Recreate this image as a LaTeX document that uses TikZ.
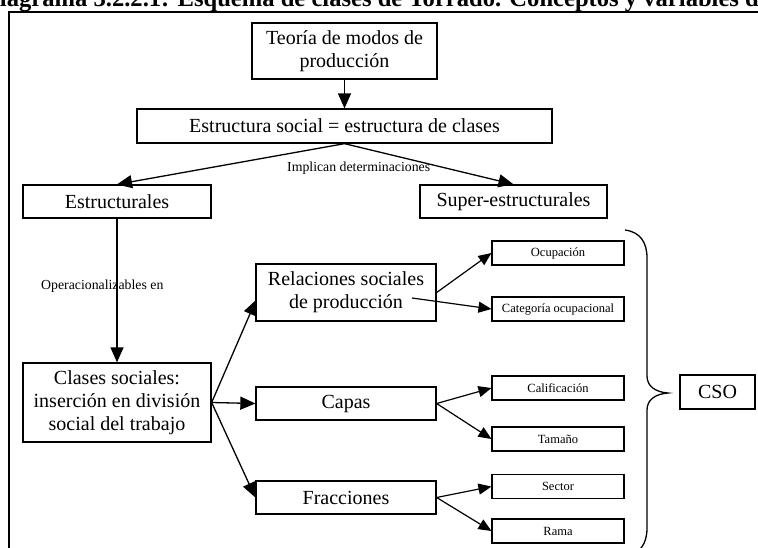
\documentclass[tikz,border=0pt]{standalone}
\usepackage{fontspec}
\setmainfont{Liberation Serif}
\usetikzlibrary{arrows.meta}
\begin{document}
\begin{tikzpicture}[x=1pt,y=-1pt,
  box/.style={draw, line width=1.3pt, rectangle, inner sep=0pt, align=center,
    font=\fontsize{20}{23}\selectfont},
  varbox/.style={draw, line width=1.1pt, rectangle, inner sep=0pt,
    minimum width=132pt, minimum height=24pt, font=\fontsize{12.5}{14}\selectfont},
  link/.style={line width=1.3pt, -{Triangle[length=15pt,width=13pt]}},
  thinlink/.style={line width=1.2pt, -{Triangle[length=13pt,width=11pt]}},
  note/.style={inner sep=0pt, anchor=base west, font=\fontsize{13.8}{16}\selectfont}]

\useasboundingbox (0,0) rectangle (758,547);
\fill[white] (0,0) rectangle (758,547);

% title and outer frame
\node[inner sep=0pt, anchor=base west, font=\fontsize{24.6}{28}\selectfont\bfseries]
  (title) at (-18,6.5) {Diagrama 3.2.2.1: Esquema de clases de Torrado. Conceptos y variables de};
\draw[line width=2pt] (9,600) -- (9,12) -- (800,12);

% upper chain
\node[box, minimum width=185pt, minimum height=56pt] (teoria) at (344.5,51)
  {Teoría de modos de\\producción};
\node[box, minimum width=415pt, minimum height=34pt] (estr) at (344.5,126)
  {Estructura social = estructura de clases};
\node[box, minimum width=188pt, minimum height=33pt] (estruct) at (117,201.5) {Estructurales};
\node[box, minimum width=187pt, minimum height=33pt] (super) at (513.5,201.5) {Super-estructurales};

% middle column
\node[box, minimum width=188pt, minimum height=79pt] (clases) at (117,402.5)
  {Clases sociales:\\inserción en división\\social del trabajo};
\node[box, minimum width=180pt, minimum height=57pt] (rel) at (346,292.5)
  {Relaciones sociales\\de producción};
\node[box, minimum width=180pt, minimum height=33pt] (capas) at (346,403.5) {Capas};
\node[box, minimum width=180pt, minimum height=33pt] (frac) at (346,497.5) {Fracciones};

% variables
\node[varbox] (ocup) at (558,253) {Ocupación};
\node[varbox] (cat) at (558,309) {Categoría ocupacional};
\node[varbox] (calif) at (558,388) {Calificación};
\node[varbox] (tam) at (558,439) {Tamaño};
\node[varbox] (sector) at (558,486.5) {Sector};
\node[varbox] (rama) at (558,531) {Rama};

\node[box, minimum width=75pt, minimum height=34pt] (cso) at (717.5,392) {CSO};

% connector labels
\node[note] (impl) at (287,171) {Implican determinaciones};
\node[note] (oper) at (41,289) {Operacionalizables en};

% connectors
\draw[link] (teoria.south) -- (estr.north);
\draw[link] (estr.south) -- (estruct.north);
\draw[link] (estr.south) -- (super.north);
\draw[link] (estruct.south) -- (clases.north);

\coordinate (relin) at (256,300);
\draw[link] (clases.east) -- (relin);
\draw[link] (clases.east) -- (capas.west);
\draw[link] (clases.east) -- (frac.west);

\coordinate (relmid) at (412,298);
\draw[thinlink] (rel.east) -- (ocup.west);
\draw[thinlink] (relmid) -- (cat.west);
\draw[thinlink] (capas.east) -- (calif.west);
\draw[thinlink] (capas.east) -- (tam.west);
\draw[thinlink] (frac.east) -- (sector.west);
\draw[thinlink] (frac.east) -- (rama.west);

% brace grouping the variables
\draw[line width=1.3pt] (625,230) .. controls (640,232) and (647,242) .. (647,258)
  -- (647,376) .. controls (647,386) and (655,392) .. (668,393)
  .. controls (655,394) and (647,400) .. (647,410)
  -- (647,528) .. controls (647,544) and (640,554) .. (625,556);
\end{tikzpicture}
\end{document}
